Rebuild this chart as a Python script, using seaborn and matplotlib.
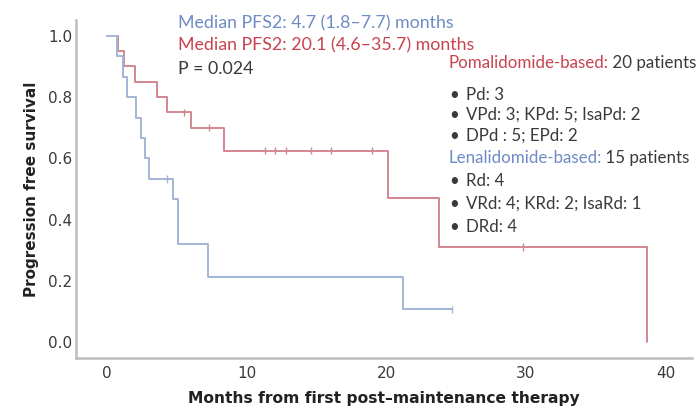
import numpy as np
import pandas as pd
import matplotlib
matplotlib.use("Agg")
import matplotlib.pyplot as plt
import seaborn as sns

# Kaplan-Meier step data (months, survival probability)
pom_times = [0, 0.8, 1.2, 2.0, 3.6, 4.3, 6.0, 8.4, 20.1, 23.8, 38.7]
pom_surv = [1.0, 0.95, 0.90, 0.85, 0.80, 0.75, 0.70, 0.625, 0.47, 0.31, 0.0]
pom_censor = [5.5, 7.3, 11.3, 12.0, 12.8, 14.6, 16.0, 19.0, 29.8]

len_times = [0, 0.7, 1.1, 1.4, 2.1, 2.4, 2.7, 3.0, 4.7, 5.1, 7.2, 21.2, 24.7]
len_surv = [1.0, 0.933, 0.867, 0.80, 0.733, 0.667, 0.60, 0.533, 0.467, 0.32, 0.213, 0.107, 0.107]
len_censor = [4.3, 24.7]

x_ticks = [0, 10, 20, 30, 40]
y_ticks = [0.0, 0.2, 0.4, 0.6, 0.8, 1.0]

red_line = "#d48690"
blue_line = "#a3b6d6"
red_text = "#c8434f"
blue_text = "#6f8bc4"
grey_text = "#3a3a3a"

sns.set_theme(style="white")
plt.rcParams["font.family"] = ["DejaVu Sans"]

steps = pd.concat([
    pd.DataFrame({"t": pom_times, "s": pom_surv, "group": "Pomalidomide"}),
    pd.DataFrame({"t": len_times, "s": len_surv, "group": "Lenalidomide"}),
])


def surv_at(times, surv, t):
    idx = np.searchsorted(times, t, side="right") - 1
    return np.asarray(surv)[idx]


censors = pd.concat([
    pd.DataFrame({"t": pom_censor, "s": surv_at(pom_times, pom_surv, pom_censor), "group": "Pomalidomide"}),
    pd.DataFrame({"t": len_censor, "s": surv_at(len_times, len_surv, len_censor), "group": "Lenalidomide"}),
])

palette = {"Pomalidomide": red_line, "Lenalidomide": blue_line}

fig = plt.figure(figsize=(6.99, 4.13), dpi=100)
ax = fig.add_axes([0.109, 0.133, 0.881, 0.819])

sns.lineplot(data=steps, x="t", y="s", hue="group", palette=palette,
             drawstyle="steps-post", estimator=None, sort=False,
             linewidth=1.4, legend=False, ax=ax)
sns.scatterplot(data=censors, x="t", y="s", hue="group", palette=palette,
                marker="|", s=28, linewidth=1.0, legend=False, ax=ax, zorder=3)

ax.set_xlim(-2.22, 41.9)
ax.set_ylim(-0.052, 1.052)
ax.set_xticks(x_ticks)
ax.set_yticks(y_ticks)
ax.set_yticklabels([f"{v:.1f}" for v in y_ticks])
ax.tick_params(axis="both", length=0, labelsize=11, colors=grey_text)
ax.tick_params(axis="x", pad=6)
ax.tick_params(axis="y", pad=3)

for side in ("top", "right"):
    ax.spines[side].set_visible(False)
for side in ("left", "bottom"):
    ax.spines[side].set_color("#bdbdbd")
    ax.spines[side].set_linewidth(1.8)

ax.set_xlabel("Months from first post\u2013maintenance therapy",
              fontsize=11.2, fontweight="bold", color="#222222", labelpad=7)
ax.set_ylabel("Progression free survival",
              fontsize=11, fontweight="bold", color="#222222", labelpad=6)

# Median PFS2 annotations
tf = dict(family=["Lato", "DejaVu Sans"], fontsize=12.8, ha="left", va="center")
fig.text(178 / 699, 1 - 23 / 413, "Median PFS2: 4.7 (1.8\u20137.7) months", color=blue_text, **tf)
fig.text(178 / 699, 1 - 45 / 413, "Median PFS2: 20.1 (4.6\u201335.7) months", color=red_text, **tf)
fig.text(178 / 699, 1 - 69 / 413, "P = 0.024", color=grey_text, **tf)

# Treatment breakdown
lf = dict(family=["Lato", "DejaVu Sans"], fontsize=12.2, va="center")
head_x = 448 / 699
bullet_x = 454 / 699
item_x = 466 / 699


def heading(y, label, color, count):
    t1 = fig.text(head_x, 1 - y / 413, label, color=color, ha="left", **lf)
    ax.annotate(count, xy=(1, 0.5), xycoords=t1, ha="left", color=grey_text, **lf)


def bullet(y, label):
    fig.text(bullet_x, 1 - y / 413, "\u2022", color=grey_text, ha="center", **lf)
    fig.text(item_x, 1 - y / 413, label, color=grey_text, ha="left", **lf)


heading(63, "Pomalidomide-based:", red_text, " 20 patients")
bullet(95, "Pd: 3")
bullet(115, "VPd: 3; KPd: 5; IsaPd: 2")
bullet(136, "DPd : 5; EPd: 2")
heading(158, "Lenalidomide-based:", blue_text, " 15 patients")
bullet(181, "Rd: 4")
bullet(204, "VRd: 4; KRd: 2; IsaRd: 1")
bullet(227, "DRd: 4")

fig.savefig("out.png", dpi=100)
